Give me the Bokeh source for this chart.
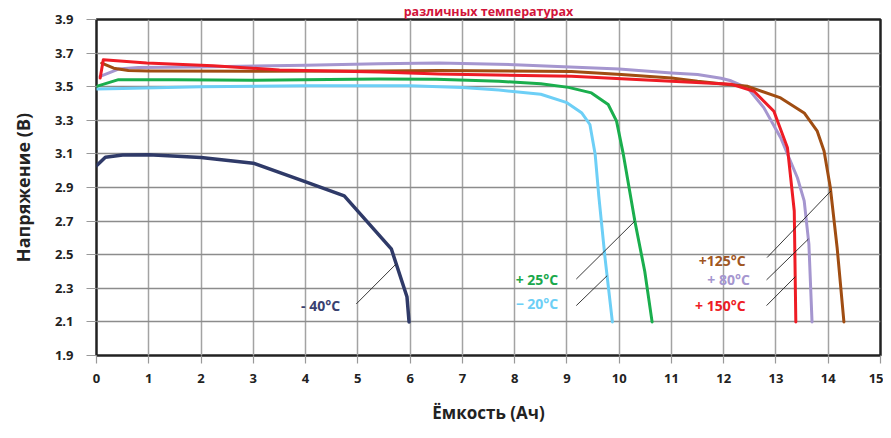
from bokeh.plotting import figure
from bokeh.models import FixedTicker, PrintfTickFormatter, ColumnDataSource, Range1d
from bokeh.embed import file_html
from bokeh.resources import INLINE
from bokeh.core.properties import value

# ---------------- data ----------------
title_text = "различных температурах"
x_label = "Ёмкость (Ач)"
y_label = "Напряжение (В)"
x_ticks = list(range(0, 16))
y_ticks = [1.9, 2.1, 2.3, 2.5, 2.7, 2.9, 3.1, 3.3, 3.5, 3.7, 3.9]

# -40 °C
cap_m40 = [0.0, 0.17, 0.5, 1.0, 2.0, 3.0, 3.95, 4.74, 5.64, 5.94, 5.98]
volt_m40 = [3.03, 3.08, 3.093, 3.095, 3.078, 3.045, 2.94, 2.85, 2.535, 2.25, 2.10]

# -20 °C
cap_m20 = [0.0, 0.5, 2.0, 4.0, 6.0, 7.0, 7.7, 8.5, 9.0, 9.28, 9.44, 9.54, 9.61, 9.73, 9.87]
volt_m20 = [3.486, 3.49, 3.5, 3.505, 3.505, 3.495, 3.48, 3.455, 3.405, 3.345, 3.275, 3.10, 2.85, 2.48, 2.10]

# +25 °C
cap_p25 = [0.0, 0.42, 1.5, 3.0, 5.4, 6.5, 7.7, 8.5, 9.03, 9.47, 9.79, 9.95, 10.08, 10.3, 10.49, 10.63]
volt_p25 = [3.502, 3.542, 3.542, 3.538, 3.546, 3.545, 3.532, 3.517, 3.496, 3.463, 3.394, 3.295, 3.097, 2.70, 2.40, 2.10]

# +80 °C
cap_p80 = [0.07, 0.42, 0.8, 1.9, 4.0, 5.4, 6.55, 8.0, 10.0, 11.0, 11.5, 11.95, 12.14, 12.46, 12.77, 13.09, 13.41, 13.54, 13.63, 13.69]
volt_p80 = [3.562, 3.605, 3.615, 3.617, 3.628, 3.637, 3.641, 3.631, 3.605, 3.581, 3.572, 3.55, 3.535, 3.492, 3.374, 3.196, 2.958, 2.82, 2.563, 2.10]

# +125 °C
cap_p125 = [0.1, 0.33, 0.61, 1.0, 3.0, 5.4, 6.55, 9.09, 10.04, 11.0, 11.5, 12.08, 12.46, 13.09, 13.54, 13.79, 13.92, 14.04, 14.17, 14.3]
volt_p125 = [3.64, 3.61, 3.597, 3.594, 3.592, 3.594, 3.596, 3.591, 3.572, 3.552, 3.532, 3.513, 3.502, 3.433, 3.344, 3.235, 3.117, 2.90, 2.543, 2.10]

# +150 °C
cap_p150 = [0.07, 0.13, 0.96, 2.23, 3.5, 5.41, 6.55, 9.09, 11.0, 12.14, 12.58, 12.96, 13.22, 13.35, 13.38]
volt_p150 = [3.552, 3.66, 3.641, 3.625, 3.60, 3.587, 3.575, 3.562, 3.532, 3.515, 3.473, 3.354, 3.136, 2.76, 2.10]

# annotations
lab_text = ["- 40°C", "+ 25°C", "− 20°C", "+125°C", "+ 80°C", "+ 150°C"]
lab_x = [4.66, 8.02, 8.02, 12.42, 12.50, 12.42]
lab_y = [2.197, 2.351, 2.209, 2.464, 2.351, 2.197]
lab_align = ["right", "left", "left", "right", "right", "right"]
lab_color = ["#3a4170", "#1aa84c", "#6dcff6", "#a0561f", "#a596cf", "#ee1c25"]

lead_x0 = [4.97, 9.18, 9.18, 12.83, 12.82, 12.82]
lead_y0 = [2.207, 2.355, 2.197, 2.483, 2.35, 2.197]
lead_x1 = [5.73, 10.30, 9.77, 14.05, 13.62, 13.37]
lead_y1 = [2.444, 2.70, 2.375, 2.879, 2.593, 2.369]

# ---------------- figure ----------------
FONT = "Open Sans"

p = figure(width=883, height=430, output_backend="svg", toolbar_location=None,
           x_range=Range1d(0, 15), y_range=Range1d(1.9, 3.9),
           min_border_left=96, min_border_right=3, min_border_top=18, min_border_bottom=75)

p.title.text = title_text
p.title.align = "center"
p.title.offset = -11
p.title.standoff = 0
p.title.text_font = FONT
p.title.text_font_style = "bold"
p.title.text_font_size = "12.5px"
p.title.text_color = "#d2143a"

p.background_fill_color = "white"
p.border_fill_color = "white"
p.outline_line_color = "#222222"
p.outline_line_width = 2.5

for ax in (p.xaxis[0], p.yaxis[0]):
    ax.axis_line_color = None
    ax.major_tick_line_color = "#999999"
    ax.major_tick_line_width = 1.2
    ax.major_tick_in = 0
    ax.minor_tick_line_color = None
    ax.major_label_text_font = FONT
    ax.major_label_text_font_style = "bold"
    ax.major_label_text_font_size = "13px"
    ax.major_label_text_color = "#222222"
    ax.axis_label_text_font = FONT
    ax.axis_label_text_font_style = "bold"
    ax.axis_label_text_color = "#222222"

p.xaxis.ticker = FixedTicker(ticks=x_ticks)
p.yaxis.ticker = FixedTicker(ticks=y_ticks)
p.yaxis.formatter = PrintfTickFormatter(format="%.1f")
p.xaxis.formatter = PrintfTickFormatter(format="%d")
p.xaxis.major_tick_out = 8
p.yaxis.major_tick_out = 10
p.xaxis.major_label_standoff = 10
p.yaxis.major_label_standoff = 13
p.xaxis.axis_label = x_label
p.yaxis.axis_label = y_label
p.xaxis.axis_label_text_font_size = "17px"
p.yaxis.axis_label_text_font_size = "18px"
p.xaxis.axis_label_standoff = 15
p.yaxis.axis_label_standoff = 17

p.xgrid.ticker = FixedTicker(ticks=x_ticks)
p.ygrid.ticker = FixedTicker(ticks=y_ticks)
p.xgrid.grid_line_color = "#a3a3a3"
p.xgrid.grid_line_width = 1.5
p.ygrid.grid_line_color = "#8c8c8c"
p.ygrid.grid_line_width = 1.5

# curves
curves = [
    (cap_m20, volt_m20, "#6dcff6", 3),
    (cap_p25, volt_p25, "#1aae4d", 3),
    (cap_p80, volt_p80, "#a596cf", 3),
    (cap_p125, volt_p125, "#a04d12", 3),
    (cap_p150, volt_p150, "#ee1c25", 3),
    (cap_m40, volt_m40, "#2f3a68", 3.5),
]
for xs, ys, col, w in curves:
    p.line(xs, ys, line_color=col, line_width=w, line_join="round", line_cap="round")

# leader lines
p.segment(x0=lead_x0, y0=lead_y0, x1=lead_x1, y1=lead_y1, line_color="#222222", line_width=0.9)

# temperature labels
lab_src = ColumnDataSource(dict(x=lab_x, y=lab_y, text=lab_text, align=lab_align, color=lab_color))
p.text(x="x", y="y", text="text", source=lab_src, text_align="align", text_baseline="middle",
       text_color="color", text_font=value(FONT), text_font_style="bold", text_font_size="14px")

open("out.html", "w").write(file_html(p, INLINE))
